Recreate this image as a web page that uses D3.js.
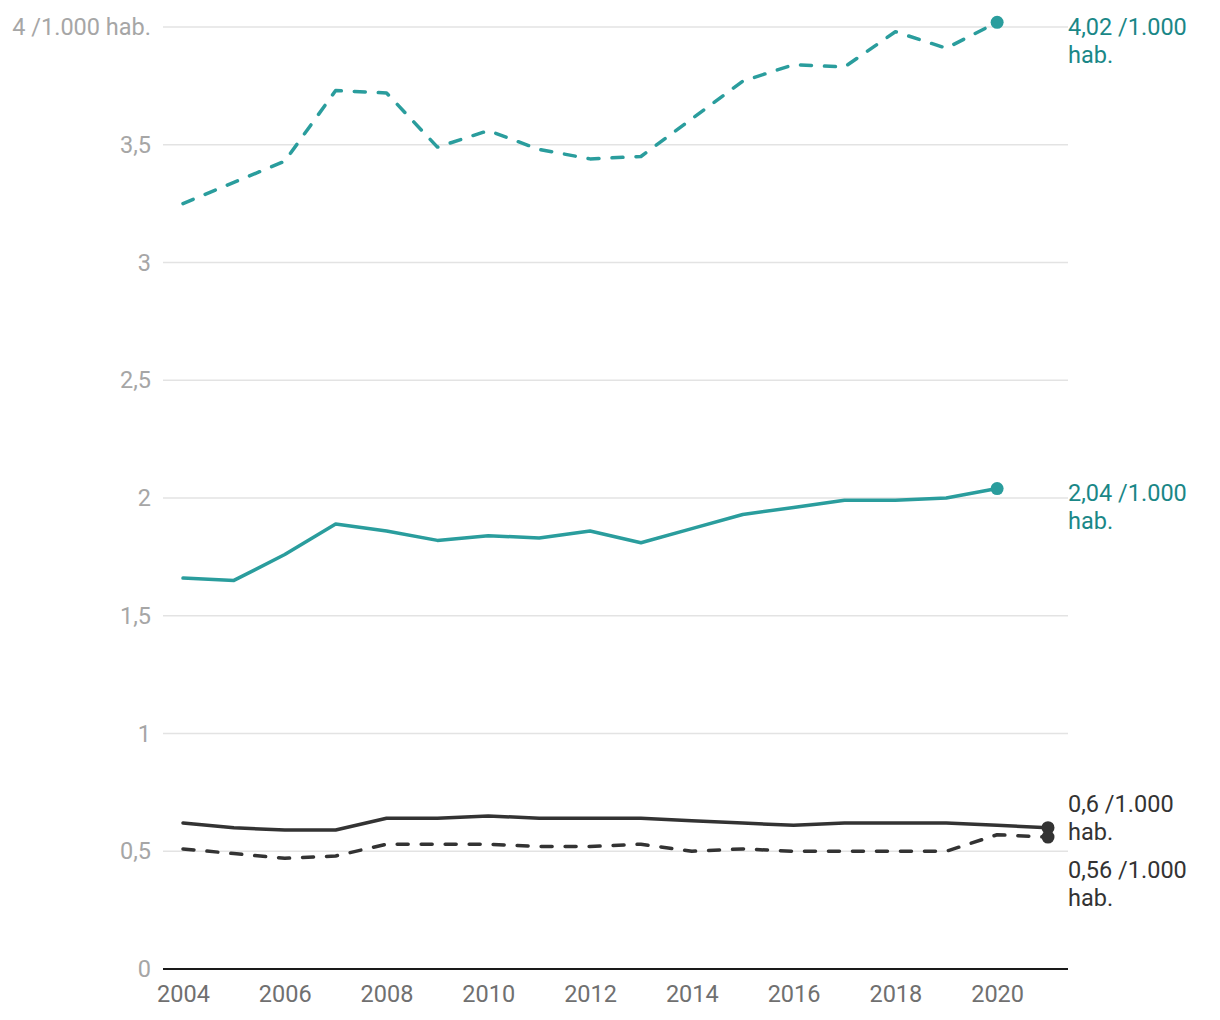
<!DOCTYPE html>
<html><head><meta charset="utf-8">
<script src="https://cdn.jsdelivr.net/npm/d3@7"></script>
<style>
html,body{margin:0;padding:0;background:#fff;}
svg{display:block;font-family:Roboto,"Noto Sans",sans-serif;}
</style></head>
<body><svg id="c" width="1220" height="1020"></svg>
<script>
const years = d3.range(2004, 2022);
const tealDashed = [3.25,3.34,3.43,3.73,3.72,3.49,3.56,3.48,3.44,3.45,3.61,3.77,3.84,3.83,3.98,3.91,4.02,null];
const tealSolid  = [1.66,1.65,1.76,1.89,1.86,1.82,1.84,1.83,1.86,1.81,1.87,1.93,1.96,1.99,1.99,2.00,2.04,null];
const blackSolid = [0.62,0.60,0.59,0.59,0.64,0.64,0.65,0.64,0.64,0.64,0.63,0.62,0.61,0.62,0.62,0.62,0.61,0.60];
const blackDashed= [0.51,0.49,0.47,0.48,0.53,0.53,0.53,0.52,0.52,0.53,0.50,0.51,0.50,0.50,0.50,0.50,0.57,0.56];
const yTicks = [0,0.5,1,1.5,2,2.5,3,3.5,4];
const yTickLabels = ["0","0,5","1","1,5","2","2,5","3","3,5","4 /1.000 hab."];
const xTicks = [2004,2006,2008,2010,2012,2014,2016,2018,2020];
const endLabels = ["4,02 /1.000","2,04 /1.000","0,6 /1.000","0,56 /1.000"];

const series = [
  {vals: tealDashed, color:"#2a9d9d", label:"#1a8787", dash:"11,13", text:endLabels[0]},
  {vals: tealSolid, color:"#2a9d9d", label:"#1a8787", dash:null, text:endLabels[1]},
  {vals: blackSolid, color:"#333333", label:"#333333", dash:null, text:endLabels[2]},
  {vals: blackDashed, color:"#333333", label:"#333333", dash:"11,13", text:endLabels[3]}
];

const FS = 23.5;
const svg = d3.select("#c");
const x = d3.scaleLinear().domain([2004,2021]).range([183,1048]);
const y = d3.scaleLinear().domain([0,4]).range([969,27]);
const gridX0 = 163, gridX1 = 1068;

// gridlines
svg.append("g").selectAll("line").data(yTicks.filter(d=>d>0)).join("line")
  .attr("x1",gridX0).attr("x2",gridX1).attr("y1",d=>y(d)).attr("y2",d=>y(d))
  .attr("stroke","#e3e3e3").attr("stroke-width",1.5);

// y labels
svg.append("g").selectAll("text").data(yTicks).join("text")
  .attr("x",151).attr("y",d=>y(d)).attr("dy","0.35em")
  .attr("text-anchor","end").attr("font-size",FS).attr("fill","#a6a6a6")
  .text((d,i)=>yTickLabels[i]);

// x axis
const xAxis = d3.axisBottom(x).tickValues(xTicks).tickFormat(d3.format("d")).tickSize(0).tickPadding(16);
const gx = svg.append("g").attr("transform",`translate(0,${y(0)})`).call(xAxis);
gx.select(".domain").remove();
gx.selectAll("text").attr("font-size",FS).attr("fill","#707070").attr("font-family","Roboto,sans-serif");
svg.append("line").attr("x1",gridX0).attr("x2",gridX1).attr("y1",y(0)).attr("y2",y(0))
  .attr("stroke","#1a1a1a").attr("stroke-width",2);

// lines
const line = d3.line().defined(d=>d[1]!=null).x(d=>x(d[0])).y(d=>y(d[1]));
series.forEach(s=>{
  const pts = years.map((yr,i)=>[yr,s.vals[i]]);
  svg.append("path").datum(pts).attr("d",line).attr("fill","none")
    .attr("stroke",s.color).attr("stroke-width",3.5).attr("stroke-linejoin","round")
    .attr("stroke-linecap","round")
    .attr("stroke-dasharray",s.dash);
  const last = pts.filter(d=>d[1]!=null).pop();
  s.last = last;
  s.ly = y(last[1]) + 4;
});

// dots
series.forEach(s=>{
  svg.append("circle").attr("cx",x(s.last[0])).attr("cy",y(s.last[1])).attr("r",6.5).attr("fill",s.color);
});

// label collision avoidance
const sorted = series.slice().sort((a,b)=>a.ly-b.ly);
const blockH = 66;
for (let k=0;k<5;k++){
  for (let i=0;i<sorted.length-1;i++){
    const a=sorted[i], b=sorted[i+1];
    const overlap = blockH - (b.ly - a.ly);
    if (overlap>0){ a.ly -= overlap/2; b.ly += overlap/2; }
  }
}

series.forEach(s=>{
  const t = svg.append("text").attr("x",1068).attr("y",s.ly).attr("font-size",FS).attr("fill",s.label);
  t.append("tspan").attr("x",1068).attr("dy","0.35em").text(s.text);
  t.append("tspan").attr("x",1068).attr("dy",28).text("hab.");
});
</script>
</body></html>
